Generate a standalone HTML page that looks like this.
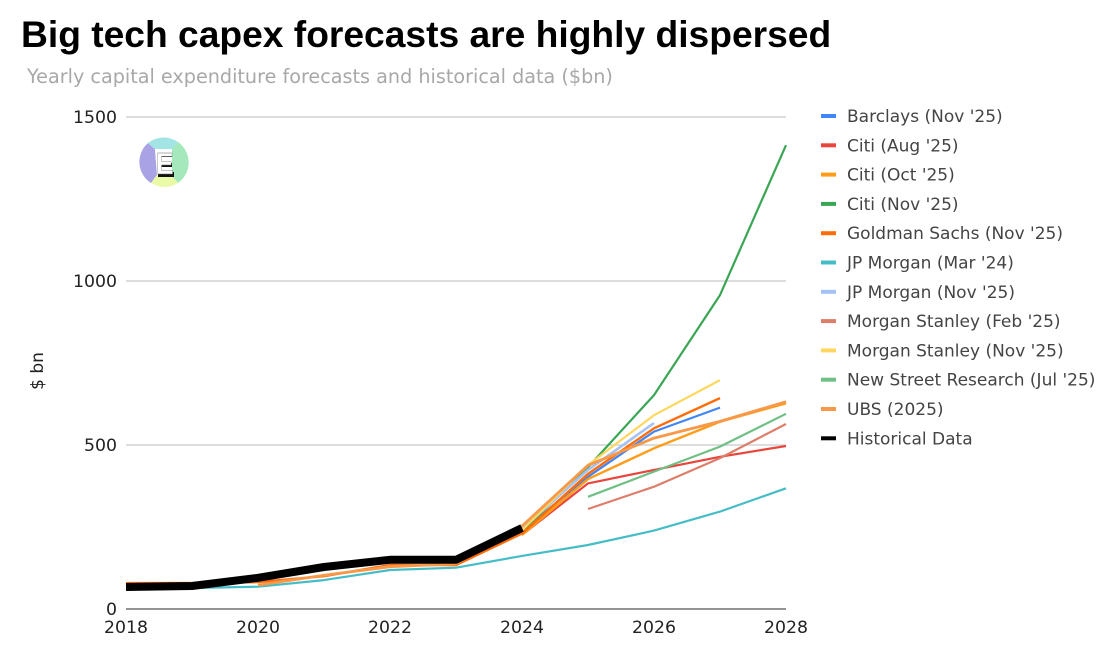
<!DOCTYPE html>
<html lang="en">
<head>
<meta charset="utf-8">
<title>Big tech capex forecasts are highly dispersed</title>
<style>
html,body{margin:0;padding:0;background:#fff;width:1100px;height:660px;overflow:hidden}
svg{display:block;filter:blur(0.35px)}
.title{font:700 37.2px "Liberation Sans",Arial,sans-serif;fill:#000}
.sub{font:19.2px "DejaVu Sans",sans-serif;fill:#a8a8a8}
.tick{font:17.3px "DejaVu Sans",sans-serif;fill:#222}
.axt{font:17px "DejaVu Sans",sans-serif;fill:#222}
.leg{font:17px "DejaVu Sans",sans-serif;fill:#444}
</style>
</head>
<body>
<svg id="chart" width="1100" height="660" viewBox="0 0 1100 660" xmlns="http://www.w3.org/2000/svg">
  <text class="title" x="21" y="47">Big tech capex forecasts are highly dispersed</text>
  <text class="sub" x="27" y="83">Yearly capital expenditure forecasts and historical data ($bn)</text>
  <text class="axt" transform="translate(43,371) rotate(-90)" text-anchor="middle">$ bn</text>
  <g id="grid"></g>
  <g id="ticks"></g>
  <g id="series"></g>
  <g id="legend"></g>
  <g>
    <path d="M148 143 A25 25 0 0 0 151 183 L157 175 L155 149 Z" fill="#a9a3e6"/>
    <path d="M148 143 A25 25 0 0 1 178 142 L172 149 L155 149 Z" fill="#a3e4e4"/>
    <path d="M178 142 A25 25 0 0 1 178 183 L172 176 L172 149 Z" fill="#a5e8bb"/>
    <path d="M151 183 A25 25 0 0 0 178 183 L172 176 L157 175 Z" fill="#e9fba6"/>
    <path d="M155 149 L172 149 L172 176 L157 175 Z" fill="#fff"/>
    <rect x="159" y="153" width="13" height="4" fill="#111"/>
    <rect x="161" y="163" width="11" height="4" fill="#111"/>
    <rect x="158" y="172" width="16" height="5" fill="#111"/>
    <text x="0" y="0" transform="translate(156,174) scale(0.85,1)" style="font:700 31px 'Liberation Sans',sans-serif;fill:#fff;stroke:#666;stroke-width:0.4">E</text>
  </g>
</svg>
<script>
const years = [2018, 2019, 2020, 2021, 2022, 2023, 2024, 2025, 2026, 2027, 2028];
const yTicks = [0, 500, 1000, 1500];
const xTicks = [2018, 2020, 2022, 2024, 2026, 2028];

const seriesNames = ["Barclays (Nov '25)", "Citi (Aug '25)", "Citi (Oct '25)", "Citi (Nov '25)", "Goldman Sachs (Nov '25)", "JP Morgan (Mar '24)", "JP Morgan (Nov '25)", "Morgan Stanley (Feb '25)", "Morgan Stanley (Nov '25)", "New Street Research (Jul '25)", "UBS (2025)", "Historical Data"];

const barclays = [null, null, null, null, null, null, 238, 403, 541, 614, null];
const citiAug = [null, null, null, null, null, null, 226, 383, 424, 464, 497];
const citiOct = [null, null, null, null, null, null, 226, 396, 490, 571, 627];
const citiNov = [null, null, null, null, null, null, 236, 432, 652, 957, 1414];
const goldman = [79, 79, 82, 100, 134, 134, 230, 412, 551, 643, null];
const jpMar = [64, 64, 68, 88, 119, 126, 162, 195, 239, 297, 368];
const jpNov = [null, null, null, null, null, null, 244, 424, 567, null, null];
const msFeb = [null, null, null, null, null, null, null, 305, 373, 460, 564];
const msNov = [null, null, null, null, null, null, 240, 439, 591, 698, null];
const newStreet = [null, null, null, null, null, null, null, 342, 419, 495, 595];
const ubs = [null, null, 73, 103, 129, 138, 253, 438, 521, 572, 632];
const historical = [67, 70, 95, 128, 150, 150, 247, null, null, null, null];

const seriesValues = [barclays, citiAug, citiOct, citiNov, goldman, jpMar, jpNov, msFeb, msNov, newStreet, ubs, historical];
const seriesColors = ["#4285f4", "#e8453c", "#ff9d1b", "#3aa655", "#ff6d0a", "#46bdc6", "#a4c2f4", "#dd7e6b", "#ffd75e", "#70bf85", "#f8994a", "#000000"];
const seriesWidths = [2.2, 2.2, 2.4, 2.2, 2.4, 2.2, 2.6, 2.2, 2.2, 2.2, 2.8, 8];

const NS = 'http://www.w3.org/2000/svg';
function xScale(year) { return 126 + (year - 2018) * 66; }
function yScale(value) { return 609 - value * (492 / 1500); }

const gridGroup = document.getElementById('grid');
const tickGroup = document.getElementById('ticks');
const seriesGroup = document.getElementById('series');
const legendGroup = document.getElementById('legend');

yTicks.forEach(function (t) {
  const line = document.createElementNS(NS, 'line');
  
  
  line.setAttribute('x1', 126);
  line.setAttribute('x2', 786);
  line.setAttribute('y1', yScale(t));
  line.setAttribute('y2', yScale(t));
  line.setAttribute('stroke', t === 0 ? '#555' : '#d2d2d2');
  line.setAttribute('stroke-width', t === 0 ? 1.2 : 1.4);
  gridGroup.appendChild(line);
  const label = document.createElementNS(NS, 'text');
  
  
  label.setAttribute('class', 'tick');
  label.setAttribute('x', 117);
  label.setAttribute('y', yScale(t) + 6);
  label.setAttribute('text-anchor', 'end');
  label.textContent = t;
  tickGroup.appendChild(label);
});

xTicks.forEach(function (t) {
  const label = document.createElementNS(NS, 'text');
  
  
  label.setAttribute('class', 'tick');
  label.setAttribute('x', xScale(t));
  label.setAttribute('y', 633);
  label.setAttribute('text-anchor', 'middle');
  label.textContent = t;
  tickGroup.appendChild(label);
});

seriesValues.forEach(function (values, i) {
  const pts = [];
  values.forEach(function (v, j) {
    if (v !== null) pts.push(xScale(years[j]).toFixed(1) + ',' + yScale(v).toFixed(1));
  });
  const line = document.createElementNS(NS, 'polyline');
  
  
  line.setAttribute('points', pts.join(' '));
  line.setAttribute('fill', 'none');
  line.setAttribute('stroke', seriesColors[i]);
  line.setAttribute('stroke-width', seriesWidths[i]);
  line.setAttribute('stroke-linejoin', 'round');
  seriesGroup.appendChild(line);
});

seriesNames.forEach(function (name, i) {
  const y = 116 + i * 29.3;
  const swatch = document.createElementNS(NS, 'line');
  
  
  swatch.setAttribute('x1', 821);
  swatch.setAttribute('x2', 836);
  swatch.setAttribute('y1', y);
  swatch.setAttribute('y2', y);
  swatch.setAttribute('stroke', seriesColors[i]);
  swatch.setAttribute('stroke-width', 4);
  legendGroup.appendChild(swatch);
  const label = document.createElementNS(NS, 'text');
  
  
  label.setAttribute('class', 'leg');
  label.setAttribute('x', 847);
  label.setAttribute('y', y + 6);
  label.textContent = name;
  legendGroup.appendChild(label);
});
</script>
</body>
</html>
